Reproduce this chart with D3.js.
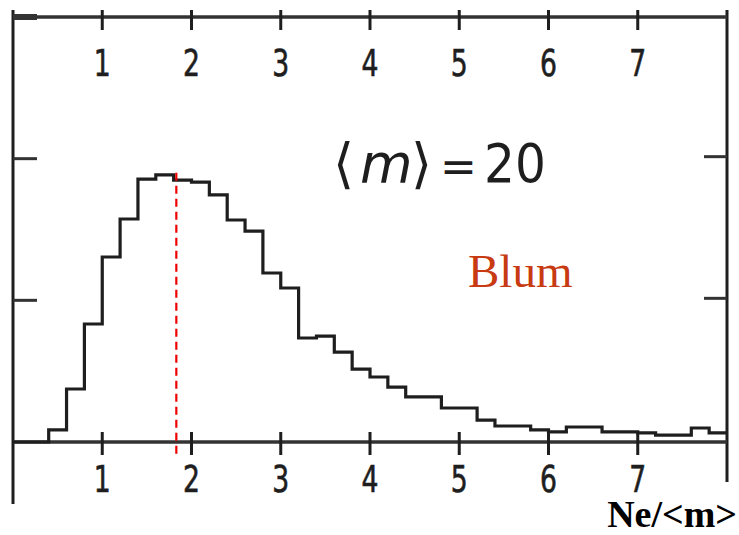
<!DOCTYPE html>
<html>
<head>
<meta charset="utf-8">
<script src="https://cdn.jsdelivr.net/npm/d3@7"></script>
<style>
  html, body { margin: 0; padding: 0; background: #fff; }
  svg { display: block; }
</style>
</head>
<body>
<svg id="chart" width="739" height="535"></svg>
<script>
// ---- data ----
const xTickValues = [1, 2, 3, 4, 5, 6, 7];
const xTickLabels = ["1", "2", "3", "4", "5", "6", "7"];
const yTickValues = [1, 2, 3];
const binStart = [0.0, 0.2, 0.4, 0.6, 0.8, 1.0, 1.2, 1.4, 1.6, 1.8,
                  2.0, 2.2, 2.4, 2.6, 2.8, 3.0, 3.2, 3.4, 3.6, 3.8,
                  4.0, 4.2, 4.4, 4.6, 4.8, 5.0, 5.2, 5.4, 5.6, 5.8,
                  6.0, 6.2, 6.4, 6.6, 6.8, 7.0, 7.2, 7.4, 7.6, 7.8];
const binHeight = [0.000, 0.000, 0.085, 0.374, 0.833, 1.306, 1.574, 1.856, 1.885, 1.849,
                   1.835, 1.744, 1.567, 1.489, 1.193, 1.087, 0.734, 0.748, 0.635, 0.515,
                   0.459, 0.388, 0.318, 0.318, 0.240, 0.240, 0.155, 0.113, 0.113, 0.085,
                   0.071, 0.106, 0.106, 0.071, 0.071, 0.064, 0.049, 0.049, 0.099, 0.064];
const binEnd = 8.0;
const peakMarker = 1.83;
const meanValue = 20;
const annotation = "Blum";
const xTitle = "Ne/<m>";

// ---- scales ----
const x = d3.scaleLinear().domain([0, 8]).range([13, 727]);
const y = d3.scaleLinear().domain([0, 3]).range([442, 17]);

const svg = d3.select("#chart");
const ink = "#1e1e1e";

// frame
svg.append("line").attr("x1", x(0)).attr("x2", x(0)).attr("y1", 10).attr("y2", 504)
  .attr("stroke", ink).attr("stroke-width", 3);
svg.append("line").attr("x1", x(8)).attr("x2", x(8)).attr("y1", 10).attr("y2", 482)
  .attr("stroke", ink).attr("stroke-width", 3);
svg.append("line").attr("x1", x(0)).attr("x2", x(8)).attr("y1", y(3)).attr("y2", y(3))
  .attr("stroke", "#333").attr("stroke-width", 3.5);
svg.append("line").attr("x1", x(0)).attr("x2", x(8)).attr("y1", y(0)).attr("y2", y(0))
  .attr("stroke", "#333").attr("stroke-width", 3.5);

// top ticks (crossing the top line)
svg.selectAll(".tt").data(xTickValues).join("line")
  .attr("x1", d => x(d)).attr("x2", d => x(d))
  .attr("y1", 10).attr("y2", 30)
  .attr("stroke", ink).attr("stroke-width", 3);
// bottom ticks (crossing the axis line)
svg.selectAll(".bt").data(xTickValues).join("line")
  .attr("x1", d => x(d)).attr("x2", d => x(d))
  .attr("y1", y(0) - 10).attr("y2", y(0) + 13)
  .attr("stroke", ink).attr("stroke-width", 3);

// y ticks, inward on both sides
svg.selectAll(".lt").data(yTickValues).join("line")
  .attr("x1", x(0)).attr("x2", x(0) + 24)
  .attr("y1", d => y(d)).attr("y2", d => y(d))
  .attr("stroke", "#333").attr("stroke-width", d => d === 3 ? 6 : 3);
svg.selectAll(".rt").data(yTickValues.filter(d => d < 3)).join("line")
  .attr("x1", x(8) - 23).attr("x2", x(8))
  .attr("y1", d => y(d) - 2).attr("y2", d => y(d) - 2)
  .attr("stroke", "#333").attr("stroke-width", 3);

// tick labels, top and bottom
const labelFont = "'DejaVu Sans Condensed', 'DejaVu Sans', sans-serif";
[76, 492].forEach(baseY => {
  svg.append("g").selectAll("text").data(xTickValues).join("text")
    .attr("transform", d => `translate(${x(d)},${baseY}) scale(0.8,1)`)
    .attr("text-anchor", "middle")
    .attr("font-family", labelFont)
    .attr("font-size", 37)
    .attr("fill", ink)
    .attr("stroke", ink).attr("stroke-width", 0.6)
    .text((d, i) => xTickLabels[i]);
});

// histogram (step line)
const pts = binStart.map((s, i) => [s, binHeight[i]]);
pts.push([binEnd, binHeight[binHeight.length - 1]]);
const line = d3.line().x(d => x(d[0])).y(d => y(d[1])).curve(d3.curveStepAfter);
svg.append("path").attr("d", line(pts))
  .attr("fill", "none").attr("stroke", ink).attr("stroke-width", 3.2)
  .attr("stroke-linejoin", "miter");

// red dashed marker
svg.append("line")
  .attr("x1", x(peakMarker)).attr("x2", x(peakMarker))
  .attr("y1", y(1.9)).attr("y2", y(-0.11))
  .attr("stroke", "#ee0000").attr("stroke-width", 2.2)
  .attr("stroke-dasharray", "8,5");

// <m> = 20 annotation
const mt = svg.append("text")
  .attr("font-family", "'DejaVu Sans', sans-serif")
  .attr("font-size", 54)
  .attr("fill", ink)
  .attr("y", 182);
mt.append("tspan").attr("x", 333).text("\u27E8");
mt.append("tspan").attr("x", 360).attr("font-style", "italic").text("m");
mt.append("tspan").attr("x", 411).text("\u27E9");
mt.append("tspan").attr("x", 440).attr("font-size", 44).text("=");
mt.append("tspan").attr("x", 484).attr("font-family", labelFont).text(String(meanValue));

// Blum
svg.append("text")
  .attr("x", 468).attr("y", 287)
  .attr("font-family", "'Liberation Serif', 'Times New Roman', serif")
  .attr("font-size", 47)
  .attr("fill", "#c83a12")
  .text(annotation);

// axis title
svg.append("text")
  .attr("x", 737).attr("y", 527)
  .attr("text-anchor", "end")
  .attr("font-family", "'Liberation Serif', 'Times New Roman', serif")
  .attr("font-weight", "bold")
  .attr("font-size", 38)
  .attr("fill", "#000")
  .text(xTitle);
</script>
</body>
</html>
